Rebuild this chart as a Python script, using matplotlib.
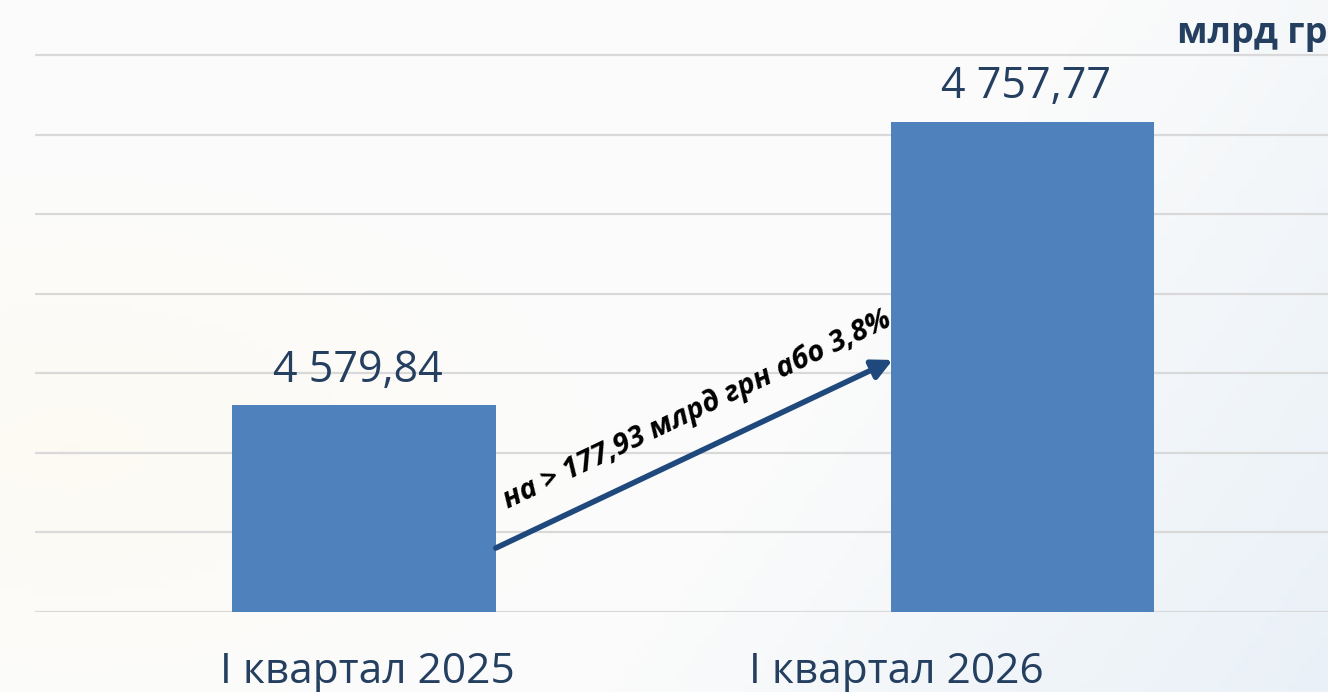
import numpy as np
import matplotlib.pyplot as plt

plt.rcParams.update({'font.family': 'Open Sans'})

# data
categories = ['I квартал 2025', 'I квартал 2026']
values = [4579.84, 4757.77]
value_labels = ['4 579,84', '4 757,77']
diff_label = 'на > 177,93 млрд грн або 3,8%'
unit_label = 'млрд грн'

bar_color = '#4F81BD'
text_color = '#243F60'
arrow_color = '#1F497D'

fig = plt.figure(figsize=(13.28, 6.92), dpi=100)

# soft background wash
bg = fig.add_axes([0, 0, 1, 1], zorder=-10)
gx, gy = np.meshgrid(np.linspace(0, 1, 200), np.linspace(0, 1, 100))
white = np.array([0.988, 0.988, 0.985])
blue = np.array([0.91, 0.94, 0.97])
yellow = np.array([0.99, 0.975, 0.93])
b = np.clip((gx - 0.6) * 1.6 + (0.5 - gy) * 0.6, 0, 1)[..., None]
yl = np.clip(1 - np.hypot((gx - 0.05) * 2.5, (gy - 0.35) * 2.5), 0, 1)[..., None] * 0.6
img = white * (1 - b) + blue * b
img = img * (1 - yl) + yellow * yl
bg.imshow(img, aspect='auto', extent=[0, 1, 0, 1], origin='lower')
bg.axis('off')

# main axes: 1 value unit ~ 1.59 px, gridlines every 50
ax = fig.add_axes([35 / 1328, 80 / 692, 1316.5 / 1328, 612 / 692])
ax.patch.set_alpha(0)
ax.set_xlim(-0.5, 1.5)
ax.set_ylim(4450, 4834.6)
ax.set_yticks(np.arange(4450, 4801, 50))
ax.yaxis.grid(True, color='#D9D9D9', lw=1.6)
ax.set_axisbelow(True)
ax.tick_params(left=False, bottom=False, labelleft=False, labelbottom=False)
for s in ax.spines.values():
    s.set_visible(False)

x = np.arange(len(values))
ax.bar(x, values, width=0.4, color=bar_color, zorder=3)

for xi, v, lab in zip(x, values, value_labels):
    ax.text(xi - 0.01 + 0.015 * xi, v + 15, lab, ha='center', va='baseline',
            fontsize=31, color=text_color)

# category labels (as placed in the original slide)
label_x = [0.005, 0.808]
for lx, cat in zip(label_x, categories):
    ax.text(lx, -0.116, cat, transform=ax.get_xaxis_transform(), ha='center',
            va='baseline', fontsize=30.5, color=text_color, clip_on=False)

# growth arrow
ax.annotate('', xy=(0.803, 4608.4), xytext=(0.2, 4490.2),
            arrowprops=dict(arrowstyle='-|>', color=arrow_color, lw=4,
                            mutation_scale=30, shrinkA=0, shrinkB=0), zorder=4)
ax.text(0.506, 4577, diff_label, rotation=25.5, rotation_mode='anchor',
        ha='center', va='center', fontsize=21, fontweight='bold',
        fontstyle='italic', color='black', zorder=5)

fig.text(1177 / 1328, 1 - 43 / 692, unit_label, ha='left', va='baseline',
         fontsize=26, fontweight='bold', color=text_color)

fig.savefig('out.png', dpi=100)
